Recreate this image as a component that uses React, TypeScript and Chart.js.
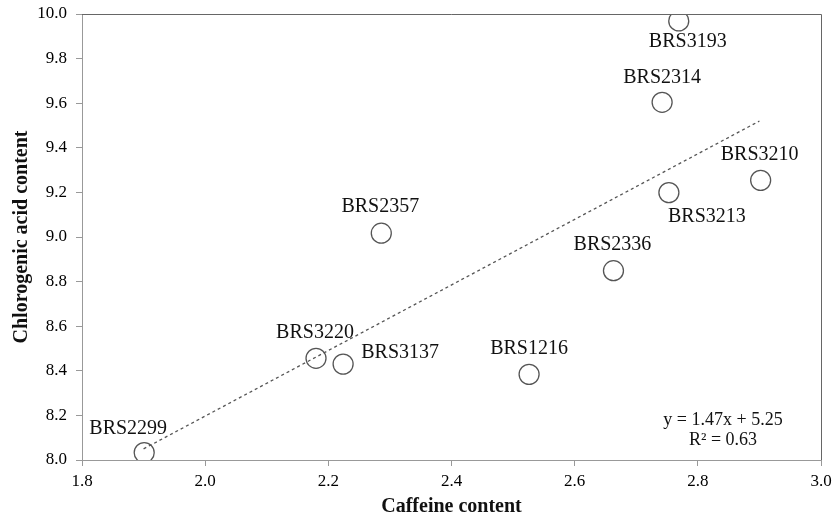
import React, { useEffect, useRef } from "react";
import { Chart, registerables } from "chart.js";

Chart.register(...registerables);

// ---- Data ----
const cultivars = [
  "BRS2299",
  "BRS3220",
  "BRS3137",
  "BRS2357",
  "BRS1216",
  "BRS2336",
  "BRS2314",
  "BRS3193",
  "BRS3213",
  "BRS3210",
];
const caffeine = [1.901, 2.18, 2.224, 2.286, 2.526, 2.663, 2.742, 2.769, 2.753, 2.902];
const chlorogenic = [8.033, 8.456, 8.43, 9.017, 8.384, 8.849, 9.604, 9.969, 9.199, 9.254];

const trendX = [1.9, 2.9];
const trendY = [8.05, 9.52];

const xTicks = [1.8, 2.0, 2.2, 2.4, 2.6, 2.8, 3.0];
const yTicks = [8.0, 8.2, 8.4, 8.6, 8.8, 9.0, 9.2, 9.4, 9.6, 9.8, 10.0];

const equationLines = ["y = 1.47x + 5.25", "R² = 0.63"];
const xTitle = "Caffeine content";
const yTitle = "Chlorogenic acid content";

// label placement (pixel offset of label centre from point centre)
const labelOffsets: [number, number][] = [
  [-16, -24],
  [-1, -26],
  [57, -11],
  [-1, -26],
  [0, -26],
  [-1, -26],
  [0, -25],
  [9, 21],
  [38, 24],
  [-1, -26],
];

const FONT = "'Liberation Serif', 'Times New Roman', serif";

const overlayPlugin = {
  id: "overlay",
  afterDraw(chart: any) {
    const { ctx, chartArea } = chart;
    const xs = chart.scales.x;
    const ys = chart.scales.y;
    ctx.save();
    // top & right frame
    ctx.strokeStyle = "#666";
    ctx.lineWidth = 1;
    ctx.beginPath();
    ctx.moveTo(chartArea.left, chartArea.top + 0.5);
    ctx.lineTo(chartArea.right + 0.5, chartArea.top + 0.5);
    ctx.lineTo(chartArea.right + 0.5, chartArea.bottom);
    ctx.stroke();

    // point labels
    ctx.fillStyle = "#111";
    ctx.font = `20px ${FONT}`;
    ctx.textAlign = "center";
    ctx.textBaseline = "middle";
    cultivars.forEach((name, i) => {
      const px = xs.getPixelForValue(caffeine[i]);
      const py = ys.getPixelForValue(chlorogenic[i]);
      const [dx, dy] = labelOffsets[i];
      ctx.fillText(name, px + dx, py + dy);
    });

    // equation
    ctx.font = `18px ${FONT}`;
    const ex = chartArea.right - 98;
    ctx.fillText(equationLines[0], ex, chartArea.bottom - 40);
    ctx.fillText(equationLines[1], ex, chartArea.bottom - 20);

    // axis titles
    ctx.font = `bold 20px ${FONT}`;
    ctx.fillText(xTitle, (chartArea.left + chartArea.right) / 2, chartArea.bottom + 47);
    ctx.translate(chartArea.left - 60, (chartArea.top + chartArea.bottom) / 2);
    ctx.rotate(-Math.PI / 2);
    ctx.fillText(yTitle, 0, 0);
    ctx.restore();
  },
};

export default function App() {
  const canvasRef = useRef<HTMLCanvasElement | null>(null);

  useEffect(() => {
    document.body.style.margin = "0";
    const canvas = canvasRef.current;
    if (!canvas) return;
    Chart.defaults.font.family = FONT;

    const chart = new Chart(canvas, {
      type: "scatter",
      data: {
        datasets: [
          {
            label: "Cultivars",
            data: caffeine.map((x, i) => ({ x, y: chlorogenic[i] })),
            pointRadius: 10,
            pointHoverRadius: 10,
            pointBorderWidth: 1.3,
            pointBorderColor: "#555",
            pointBackgroundColor: "rgba(255,255,255,0)",
            showLine: false,
          },
          {
            label: "Trend",
            type: "line",
            data: trendX.map((x, i) => ({ x, y: trendY[i] })),
            borderColor: "#555",
            borderWidth: 1.3,
            borderDash: [3, 3],
            pointRadius: 0,
            fill: false,
          } as any,
        ],
      },
      options: {
        animation: false,
        responsive: true,
        maintainAspectRatio: false,
        layout: { padding: { top: 14, right: 14, left: 0, bottom: 0 } },
        plugins: {
          legend: { display: false },
          tooltip: { enabled: false },
        },
        scales: {
          x: {
            type: "linear",
            min: 1.8,
            max: 3.0,
            afterBuildTicks: (s: any) => {
              s.ticks = xTicks.map((v) => ({ value: v }));
            },
            afterFit: (s: any) => {
              s.height = 60;
              s.paddingLeft = 0;
              s.paddingRight = 0;
              s.paddingTop = 0;
              s.paddingBottom = 0;
            },
            ticks: {
              color: "#000",
              font: { size: 17, family: FONT },
              padding: 5,
              maxRotation: 0,
              callback: (v: any) => Number(v).toFixed(1),
            },
            grid: {
              display: true,
              drawOnChartArea: false,
              drawTicks: true,
              tickLength: 6,
              color: "#999",
            },
            border: { display: true, color: "#999", width: 1 },
          },
          y: {
            type: "linear",
            min: 8.0,
            max: 10.0,
            afterBuildTicks: (s: any) => {
              s.ticks = yTicks.map((v) => ({ value: v }));
            },
            afterFit: (s: any) => {
              s.width = 82;
              s.paddingLeft = 0;
              s.paddingRight = 0;
              s.paddingTop = 0;
              s.paddingBottom = 0;
            },
            ticks: {
              color: "#000",
              font: { size: 17, family: FONT },
              padding: 9,
              callback: (v: any) => Number(v).toFixed(1),
            },
            grid: {
              display: true,
              drawOnChartArea: false,
              drawTicks: true,
              tickLength: 6,
              color: "#999",
            },
            border: { display: true, color: "#999", width: 1 },
          },
        },
      },
      plugins: [overlayPlugin],
    });

    return () => chart.destroy();
  }, []);

  return (
    <div style={{ width: 835, height: 520, position: "relative" }}>
      <canvas ref={canvasRef} />
    </div>
  );
}
